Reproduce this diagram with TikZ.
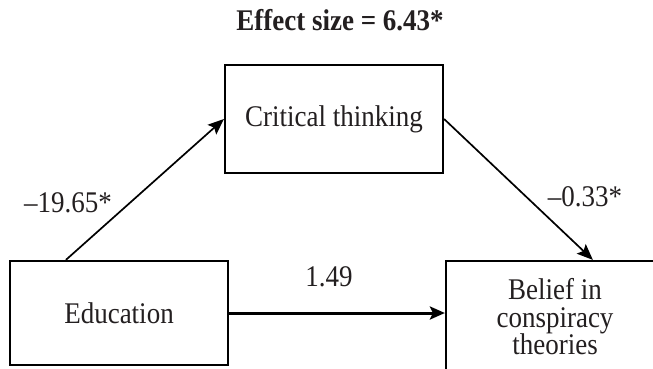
\documentclass[tikz,border=0pt]{standalone}
\usepackage{fontspec}
\setmainfont{Liberation Serif}[FakeStretch=0.9]
\usetikzlibrary{arrows.meta,calc}
\definecolor{ink}{HTML}{231F20}
\tikzset{
  box/.style={draw=black, line width=2.2pt, minimum width=218pt, inner sep=0pt, align=center, text=ink},
  lbl/.style={text=ink, inner sep=0pt},
  conn/.style={draw=black, line width=1.7pt, -{Stealth[length=16pt,width=13pt,inset=3pt]}},
  thick conn/.style={draw=black, line width=3pt, -{Stealth[length=15pt,width=13pt,inset=3pt]}},
}
\begin{document}
\begin{tikzpicture}[x=1pt,y=-1pt,font=\fontsize{30}{27.5}\selectfont]
\useasboundingbox (0,0) rectangle (653,368);
\clip (0,0) rectangle (653,368);
\node[lbl, font=\fontsize{30}{28}\selectfont\bfseries] (title) at (340,20) {Effect size = 6.43*};
\node[box, minimum height=108pt] (crit) at (334,119) {Critical thinking};
\node[box, minimum height=104pt] (edu) at (119,313) {Education};
\node[box, minimum height=112pt] (bel) at (555,317) {Belief in\\conspiracy\\theories};
\coordinate (eduTop) at ($(edu.north west)+(57,0)$);
\coordinate (belTop) at ($(bel.north west)+(148,0)$);
\draw[conn] (eduTop) -- (crit.west);
\draw[conn] (crit.east) -- (belTop);
\draw[thick conn] (edu.east) -- (edu.east -| bel.west);
\node[lbl] (l1) at (68,203) {–19.65*};
\node[lbl] (l2) at (585,197) {–0.33*};
\node[lbl] (l3) at (329,277) {1.49};
\end{tikzpicture}
\end{document}
